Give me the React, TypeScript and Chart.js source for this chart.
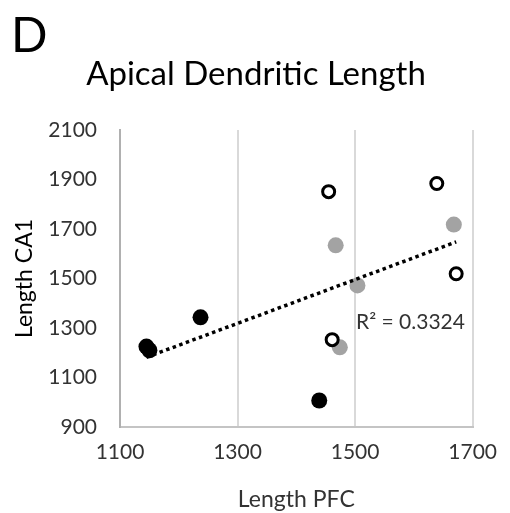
import React, { useEffect, useRef } from "react";
import { Chart, registerables } from "chart.js";

Chart.register(...registerables);

// ---- Data ----
const PANEL_LABEL = "D";
const TITLE = "Apical Dendritic Length";
const X_TITLE = "Length PFC";
const Y_TITLE = "Length CA1";
const R2_LABEL = "R² = 0.3324";

const xTicks = [1100, 1300, 1500, 1700];
const yTicks = [900, 1100, 1300, 1500, 1700, 1900, 2100];

const blackX = [1145, 1150, 1237, 1439];
const blackY = [1225, 1210, 1343, 1007];

const openX = [1455, 1639, 1672, 1461];
const openY = [1851, 1884, 1519, 1253];

const grayX = [1467, 1668, 1504, 1474];
const grayY = [1634, 1718, 1472, 1222];

const FONT = "Lato";

function toPoints(xs: number[], ys: number[]) {
  return xs.map((x, i) => ({ x, y: ys[i] }));
}

function linearFit(xs: number[], ys: number[]) {
  const n = xs.length;
  const mx = xs.reduce((a, b) => a + b, 0) / n;
  const my = ys.reduce((a, b) => a + b, 0) / n;
  let sxy = 0;
  let sxx = 0;
  for (let i = 0; i < n; i++) {
    sxy += (xs[i] - mx) * (ys[i] - my);
    sxx += (xs[i] - mx) * (xs[i] - mx);
  }
  const slope = sxy / sxx;
  const intercept = my - slope * mx;
  const x0 = Math.min(...xs);
  const x1 = Math.max(...xs);
  return [
    { x: x0, y: intercept + slope * x0 },
    { x: x1, y: intercept + slope * x1 },
  ];
}

const textPlugin = {
  id: "textOverlay",
  afterDraw(chart: any) {
    const ctx = chart.ctx as CanvasRenderingContext2D;
    ctx.save();
    ctx.fillStyle = "#000";
    ctx.textBaseline = "alphabetic";
    ctx.font = `48px ${FONT}`;
    ctx.textAlign = "left";
    ctx.fillText(PANEL_LABEL, 11, 52);
    ctx.font = `33px ${FONT}`;
    ctx.textAlign = "center";
    ctx.fillText(TITLE, 256, 85);
    ctx.font = `21px ${FONT}`;
    ctx.textAlign = "left";
    ctx.fillStyle = "#333";
    ctx.fillText(R2_LABEL, 356, 329);
    ctx.restore();
  },
};

export default function App() {
  const ref = useRef<HTMLCanvasElement | null>(null);

  useEffect(() => {
    if (!ref.current) return;
    const allX = [...blackX, ...openX, ...grayX];
    const allY = [...blackY, ...openY, ...grayY];
    const trend = linearFit(allX, allY);

    const chart = new Chart(ref.current, {
      type: "scatter",
      data: {
        datasets: [
          {
            label: "Trend",
            data: trend,
            showLine: true,
            borderColor: "#000",
            borderWidth: 3.5,
            borderDash: [3.5, 3.5],
            pointRadius: 0,
            fill: false,
            order: 0,
          } as any,
          {
            label: "Black",
            data: toPoints(blackX, blackY),
            backgroundColor: "#000",
            borderColor: "#000",
            borderWidth: 0,
            pointRadius: 8,
            order: 1,
          },
          {
            label: "Open",
            data: toPoints(openX, openY),
            backgroundColor: "#fff",
            borderColor: "#000",
            borderWidth: 3,
            pointRadius: 6,
            order: 1,
          },
          {
            label: "Gray",
            data: toPoints(grayX, grayY),
            backgroundColor: "#a3a3a3",
            borderColor: "#a3a3a3",
            borderWidth: 0,
            pointRadius: 8,
            order: 1,
          },
        ],
      },
      options: {
        responsive: false,
        animation: false,
        events: [],
        layout: { padding: { left: 0, right: 29, top: 130, bottom: 0 } },
        plugins: {
          legend: { display: false },
          tooltip: { enabled: false },
          title: { display: false },
        },
        scales: {
          x: {
            type: "linear",
            min: xTicks[0],
            max: xTicks[xTicks.length - 1],
            afterBuildTicks: (s: any) => {
              s.ticks = xTicks.map((v) => ({ value: v }));
            },
            ticks: {
              font: { family: FONT, size: 21 },
              color: "#333",
              padding: 13,
              callback: (v: any) => String(v),
            },
            grid: { color: "#d9d9d9", lineWidth: 2, drawTicks: false },
            border: { color: "#c4c4c4", width: 2 },
            title: {
              display: true,
              text: X_TITLE,
              font: { family: FONT, size: 23 },
              color: "#333",
              padding: { top: 0, bottom: 0 },
            },
            afterFit: (s: any) => {
              s.height = 86;
            },
          },
          y: {
            type: "linear",
            min: yTicks[0],
            max: yTicks[yTicks.length - 1],
            afterBuildTicks: (s: any) => {
              s.ticks = yTicks.map((v) => ({ value: v }));
            },
            ticks: {
              font: { family: FONT, size: 21 },
              color: "#333",
              padding: 23,
              callback: (v: any) => String(v),
            },
            grid: { display: false, drawTicks: false },
            border: { color: "#b0b0b0", width: 2 },
            title: {
              display: true,
              text: Y_TITLE,
              font: { family: FONT, size: 23 },
              color: "#000",
              padding: { top: 11, bottom: 0 },
            },
            afterFit: (s: any) => {
              s.width = 120;
            },
          },
        },
      },
      plugins: [textPlugin],
    });
    return () => chart.destroy();
  }, []);

  return (
    <div style={{ position: "fixed", left: 0, top: 0, width: 510, height: 513, background: "#fff" }}>
      <canvas ref={ref} width={510} height={513} style={{ display: "block" }} />
    </div>
  );
}
